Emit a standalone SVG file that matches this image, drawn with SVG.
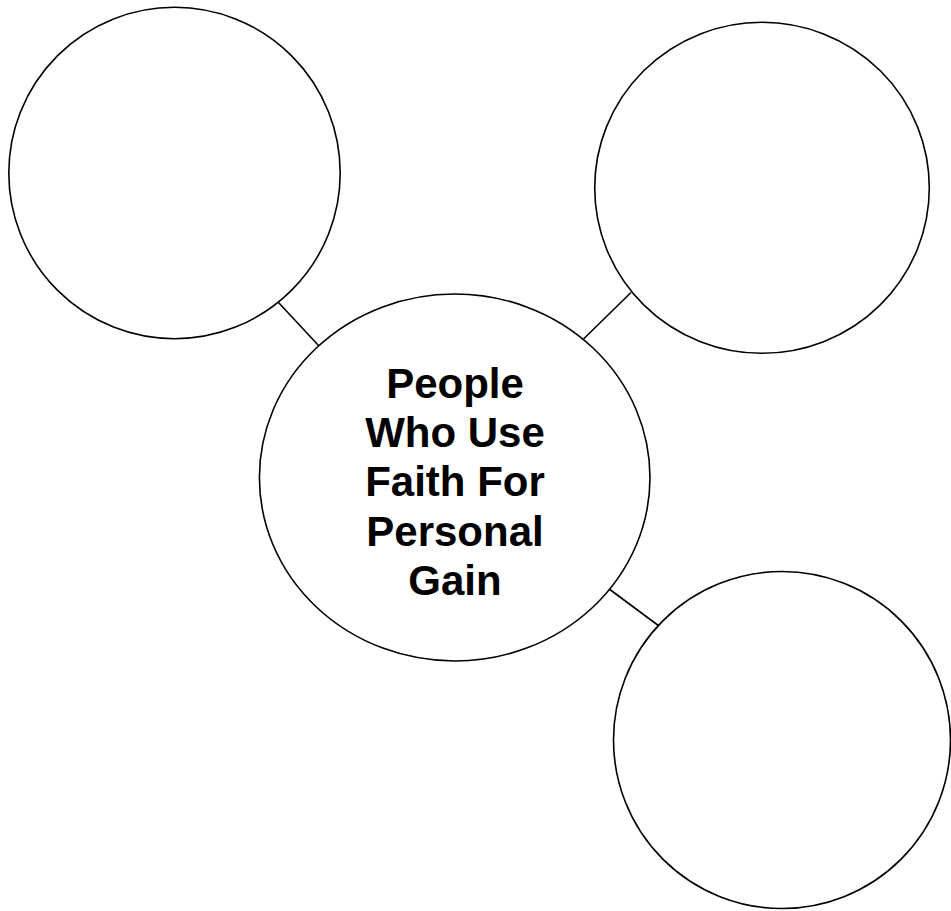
<svg xmlns="http://www.w3.org/2000/svg" width="951" height="911" viewBox="0 0 951 911">
<style>
.node{fill:#fff;stroke:#000;stroke-width:1.6}
.conn{stroke:#000;stroke-width:1.6;fill:none}
.lbl{font-family:"Liberation Sans",Arial,sans-serif;font-weight:bold;font-size:42px;fill:#000;text-anchor:middle}
</style>
<rect width="951" height="911" fill="#fff"/>
<g id="connectors">
<line class="conn" x1="278.5" y1="302.5" x2="319" y2="346"/>
<line class="conn" x1="631" y1="292.5" x2="583.5" y2="339"/>
<line class="conn" x1="608.5" y1="588.5" x2="659" y2="626"/>
</g>
<g id="node-top-left"><circle class="node" cx="174.5" cy="173" r="165.7"/></g>
<g id="node-top-right"><ellipse class="node" cx="762" cy="187.8" rx="167.3" ry="165.5"/></g>
<g id="node-bottom-right"><circle class="node" cx="782" cy="740" r="168.5"/></g>
<g id="node-center">
<ellipse class="node" cx="454.7" cy="477.5" rx="195.3" ry="183.5"/>
<text class="lbl" x="455" y="398">People</text>
<text class="lbl" x="455" y="447.2">Who Use</text>
<text class="lbl" x="455" y="496.4">Faith For</text>
<text class="lbl" x="455" y="545.6">Personal</text>
<text class="lbl" x="455" y="594.8">Gain</text>
</g>
</svg>
